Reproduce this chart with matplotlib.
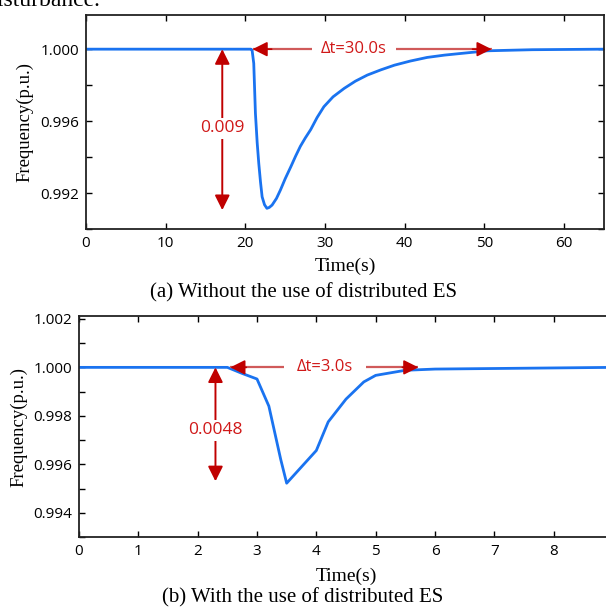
import numpy as np
import matplotlib

matplotlib.use("Agg")
import matplotlib.pyplot as plt
from matplotlib.ticker import MultipleLocator

# (a) without distributed ES
t_a = [0, 10, 20, 20.7, 20.84, 21.05, 21.26, 21.48, 21.68, 21.9, 22.1, 22.4, 22.7,
       23.0, 23.35, 23.9, 24.4, 25.0, 25.7, 26.3, 26.9, 27.5, 28.2, 29.0, 29.85,
       31.0, 32.4, 33.8, 35.3, 37.0, 38.7, 40.7, 42.8, 45.0, 47.0, 50.4, 56.0, 65.0]
f_a = [1.0, 1.0, 1.0, 1.0, 0.99995, 0.99921, 0.99643, 0.99480, 0.99365, 0.99260,
       0.99179, 0.99135, 0.99115, 0.99120, 0.99133, 0.99170, 0.99217, 0.99280,
       0.99346, 0.99405, 0.99460, 0.99505, 0.99553, 0.99620, 0.99680, 0.99735,
       0.99782, 0.99822, 0.99856, 0.99885, 0.99911, 0.99934, 0.99954, 0.99967,
       0.99976, 0.99991, 0.99997, 1.0]

# (b) with distributed ES
t_b = [0, 1, 2, 2.5, 2.75, 3.0, 3.2, 3.4, 3.5, 4.0, 4.2, 4.5, 4.8, 5.0, 5.5, 6.0, 9.0]
f_b = [1.0, 1.0, 1.0, 1.0, 0.99975, 0.99952, 0.99840, 0.99620, 0.99522, 0.99657,
       0.99775, 0.99869, 0.99940, 0.99967, 0.99988, 0.99993, 1.0]

LINE = "#1a73f0"
ARROW = "#c00000"
ARROW_LINE = "#d05a5a"
TEXT_RED = "#d01818"
SERIF = ["Liberation Serif", "DejaVu Serif"]
SANS = ["Open Sans", "DejaVu Sans"]

fig = plt.figure(figsize=(6.06, 6.10), dpi=100)


def style(ax):
    ax.tick_params(direction="in", top=True, right=True, length=4, width=1,
                   labelsize=11, pad=5)
    ax.tick_params(which="minor", direction="in", right=True, length=4, width=1)
    for lab in ax.get_xticklabels() + ax.get_yticklabels():
        lab.set_family(SANS)
    for s in ax.spines.values():
        s.set_linewidth(1.3)
        s.set_color("#222222")


def h_arrow(ax, x0, x1, y, gap0, gap1, text, hl):
    ax.plot([x0, gap0], [y, y], color=ARROW_LINE, lw=1.6, solid_capstyle="butt")
    ax.plot([gap1, x1], [y, y], color=ARROW_LINE, lw=1.6, solid_capstyle="butt")
    for tip, back in ((x0, x0 + hl), (x1, x1 - hl)):
        ax.annotate("", xy=(tip, y), xytext=(back, y),
                    arrowprops=dict(arrowstyle="-|>,head_length=0.9,head_width=0.45",
                                    color=ARROW, lw=1.2, shrinkA=0, shrinkB=0))
    ax.text((gap0 + gap1) / 2, y, text, color=TEXT_RED, fontsize=12,
            family=SANS, ha="center", va="center")


def v_arrow(ax, x, y0, y1, ty, text):
    ax.annotate("", xy=(x, y1), xytext=(x, y0),
                arrowprops=dict(arrowstyle="<|-|>,head_length=0.9,head_width=0.45",
                                color=ARROW, lw=1.4, shrinkA=0, shrinkB=0))
    ax.text(x, ty, text, color=TEXT_RED, fontsize=12.5, family=SANS,
            ha="center", va="center",
            bbox=dict(facecolor="white", edgecolor="none", pad=2))


# panel (a)
ax1 = fig.add_axes([86 / 606, 1 - 229 / 610, 518 / 606, 214 / 610])
ax1.plot(t_a, f_a, color=LINE, lw=2)
ax1.set_xlim(0, 65)
ax1.set_ylim(0.990, 1.0019)
ax1.set_xticks([0, 10, 20, 30, 40, 50, 60])
ax1.set_yticks([0.992, 0.996, 1.000])
ax1.set_yticklabels(["0.992", "0.996", "1.000"])
ax1.yaxis.set_minor_locator(MultipleLocator(0.002))
style(ax1)
ax1.set_xlabel("Time(s)", family=SERIF, fontsize=14, labelpad=5)
ax1.set_ylabel("Frequency(p.u.)", family=SERIF, fontsize=13.5, labelpad=5)
v_arrow(ax1, 17.1, 1.0, 0.99105, 0.99560, "0.009")
h_arrow(ax1, 20.9, 50.9, 1.0, 28.4, 38.9, "\u0394t=30.0s", 2.4)
fig.text(0.5, 1 - 293 / 610, "(a) Without the use of distributed ES",
         family=SERIF, fontsize=15, ha="center", va="center")

# panel (b)
ax2 = fig.add_axes([79 / 606, 1 - 537 / 610, 534 / 606, 221 / 610])
ax2.plot(t_b, f_b, color=LINE, lw=2)
ax2.set_xlim(0, 9)
ax2.set_ylim(0.993, 1.00212)
ax2.set_xticks(range(10))
ax2.set_yticks([0.994, 0.996, 0.998, 1.000, 1.002])
ax2.set_yticklabels(["0.994", "0.996", "0.998", "1.000", "1.002"])
ax2.yaxis.set_minor_locator(MultipleLocator(0.001))
style(ax2)
ax2.set_xlabel("Time(s)", family=SERIF, fontsize=14, labelpad=6)
ax2.set_ylabel("Frequency(p.u.)", family=SERIF, fontsize=13.5, labelpad=4)
v_arrow(ax2, 2.3, 1.0, 0.99530, 0.99740, "0.0048")
h_arrow(ax2, 2.55, 5.72, 1.0, 3.45, 4.83, "\u0394t=3.0s", 0.27)
fig.text(0.5, 1 - 598 / 610, "(b) With the use of distributed ES",
         family=SERIF, fontsize=15, ha="center", va="center")

# caption fragment from the page above
fig.text(100 / 606, 1 - 6 / 610, "disturbance.", family=SERIF, fontsize=17,
         ha="right", va="baseline")

fig.savefig("out.png", dpi=100)
